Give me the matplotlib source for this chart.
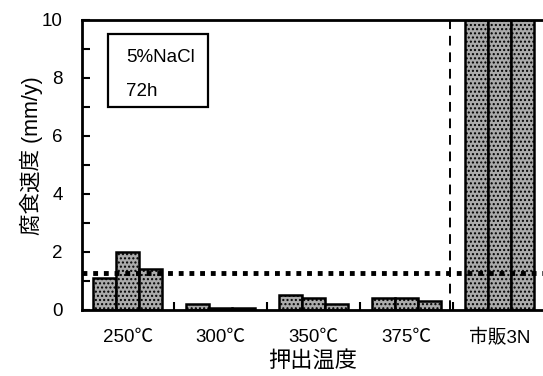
import numpy as np
import matplotlib
matplotlib.use("Agg")
import matplotlib.pyplot as plt
from matplotlib.ticker import MultipleLocator
from matplotlib.patches import Rectangle

plt.rcParams['font.family'] = ['Liberation Sans', 'Noto Sans CJK JP']
plt.rcParams['hatch.color'] = '#7a7a7a'

groups = ['250℃', '300℃', '350℃', '375℃', '市販3N']
# three samples per condition, corrosion rate (mm/y)
s1 = [1.1, 0.2, 0.5, 0.4, 12.0]
s2 = [2.0, 0.07, 0.4, 0.4, 12.0]
s3 = [1.4, 0.07, 0.2, 0.3, 12.0]
ref_level = 1.27

fig = plt.figure(figsize=(5.43, 3.76), dpi=100)
ax = fig.add_axes([0.151, 0.176, 0.849, 0.771])

x = np.arange(len(groups))
w = 0.248
style = dict(color='#ababab', edgecolor='black', linewidth=1.8, hatch='....')
for off, vals in zip([-w, 0, w], [s1, s2, s3]):
    ax.bar(x + off, vals, w, **style)

ax.axhline(ref_level, color='black', linestyle=(0, (1, 1.2)), linewidth=3.5)
ax.axvline(3.47, color='black', linestyle=(0, (5, 3.5)), linewidth=1.4)

ax.set_xlim(-0.495, 4.47)
ax.set_ylim(0, 10)
ax.set_xticks(x)
ax.set_xticklabels(groups, fontsize=13.5)
ax.set_xticks(np.arange(0.5, 4.5, 1), minor=True)
ax.tick_params(axis='x', which='major', length=0, pad=14)
ax.tick_params(axis='x', which='minor', direction='in', length=6, width=1.5)
ax.yaxis.set_major_locator(MultipleLocator(2))
ax.yaxis.set_minor_locator(MultipleLocator(1))
ax.tick_params(axis='y', which='both', direction='in', length=6, width=1.5,
               labelsize=13.5, pad=14)

for s in ['left', 'bottom', 'top']:
    ax.spines[s].set_linewidth(2)
ax.spines['right'].set_visible(False)

ax.set_xlabel('押出温度', fontsize=16, va='center')
ax.xaxis.set_label_coords(0.501, -0.179)
ax.set_ylabel('腐食速度 (mm/y)', fontsize=15.5, va='center')
ax.yaxis.set_label_coords(-0.11, 0.531)

ax.add_patch(Rectangle((0.056, 0.70), 0.217, 0.252, transform=ax.transAxes,
                       facecolor='white', edgecolor='black', linewidth=1.6, zorder=5))
ax.text(0.0955, 0.871, '5%NaCl', transform=ax.transAxes, fontsize=13.5,
        va='center', ha='left', zorder=6)
ax.text(0.0955, 0.753, '72h', transform=ax.transAxes, fontsize=13.5,
        va='center', ha='left', zorder=6)

fig.savefig('out.png', dpi=100)
